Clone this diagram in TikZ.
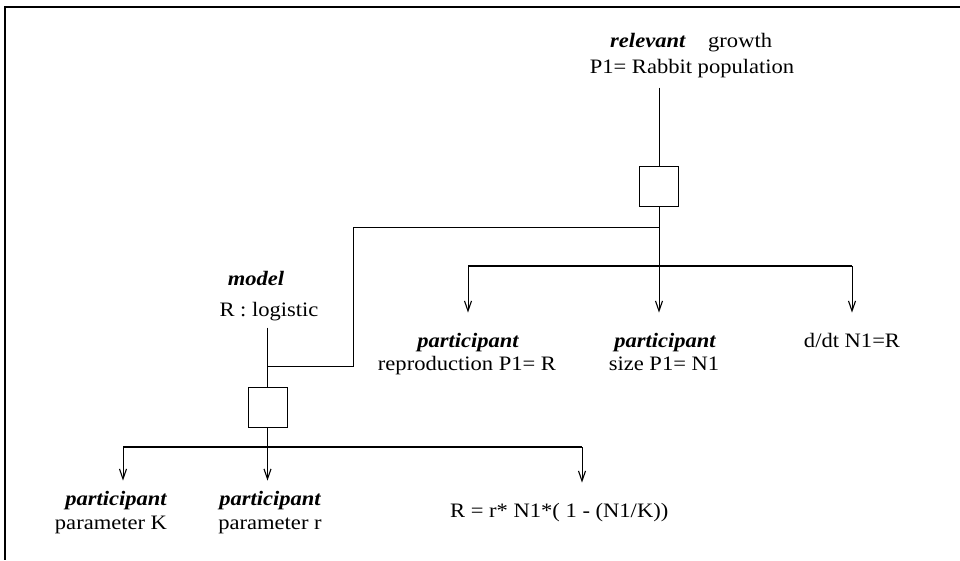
\documentclass[tikz,border=0pt]{standalone}
\usepackage{fontspec}
\setmainfont[FakeStretch=1.1]{Liberation Serif}
\usetikzlibrary{arrows.meta}

\begin{document}
\begin{tikzpicture}[x=1pt,y=-1pt,
  txt/.style={anchor=base, inner sep=0pt, font=\fontsize{20.5}{24}\selectfont},
  role/.style={txt, font=\fontsize{20.5}{24}\selectfont\bfseries\itshape},
  hub/.style={draw, line width=1pt, minimum width=39pt, minimum height=40pt, inner sep=0pt},
  link/.style={line width=1pt},
  bar/.style={line width=1.5pt},
  tip/.style={-{Straight Barb[length=10pt,width=7pt,line width=1.1pt]}},
]
\useasboundingbox (0,0) rectangle (960,560);

% frame (top and left edges)
\draw[line width=1.6pt] (960,7) -- (5,7) -- (5,560);

% ---- upper relation: growth ----
\node[role, anchor=base west] (relTag) at (610,47) {relevant};
\node[txt, anchor=base west] (relVal) at (708,47) {growth};
\node[txt] (relObj) at (692,73) {P1= Rabbit population};
\node[hub] (hubA) at (659,186.5) {};
\coordinate (fork) at (659,227);
\coordinate (barA) at (659,266);
\coordinate (elbowTop) at (353,227);
\coordinate (elbowBot) at (353,366);

\node[role] (partRep) at (468,347) {participant};
\node[txt] (repr) at (467,370) {reproduction P1= R};
\node[role] (partSize) at (665,347) {participant};
\node[txt] (size) at (664,370) {size P1= N1};
\node[txt] (deriv) at (852,347) {d/dt N1=R};

\draw[link] ([yshift=-10pt]relObj.south -| hubA.north) -- (hubA.north);
\draw[link] (hubA.south) -- (fork);
\draw[bar] (barA -| partRep) -- (barA -| deriv);
\draw[link,tip] (fork) -- ([yshift=20pt]partSize.north -| fork);
\draw[link,tip] (barA -| partRep) -- ([yshift=20pt]partRep.north);
\draw[link,tip] (barA -| deriv) -- ([yshift=20pt]deriv.north);

% ---- lower relation: logistic model ----
\node[role] (modelTag) at (256,285) {model};
\node[txt] (modelVal) at (269,316) {R : logistic};
\node[hub] (hubB) at (267.5,407) {};
\coordinate (join) at (267.5,366);
\coordinate (barB) at (267.5,447);
\coordinate (barBStart) at (123,447);
\coordinate (barBEnd) at (582,447);

\draw[link] (fork) -- (elbowTop) -- (elbowBot) -- (join);
\draw[link] ([yshift=-7pt]modelVal.south -| hubB.north) -- (hubB.north);

\node[role] (partK) at (116,505) {participant};
\node[txt] (parK) at (111,529) {parameter K};
\node[role] (partR) at (270,505) {participant};
\node[txt] (parR) at (270,529) {parameter r};
\node[txt, anchor=base west] (formula) at (450,517) {R = r* N1*( 1 - (N1/K))};

\draw[bar] (barBStart) -- (barBEnd);
\draw[bar,tip] (hubB.south) -- ([yshift=10pt]partR.north -| hubB.south);
\draw[link,tip] (barBStart) -- ([yshift=10pt]partK.north -| barBStart);
\draw[link,tip] (barBEnd) -- ([yshift=20pt]formula.north -| barBEnd);
\end{tikzpicture}
\end{document}
